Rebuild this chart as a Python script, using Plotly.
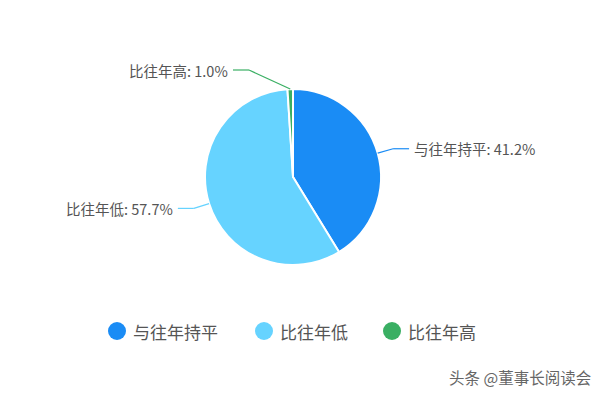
import math
import plotly.graph_objects as go

# Slice data
categories = ["与往年持平", "比往年低", "比往年高"]
values = [41.2, 57.7, 1.0]
colors = ["#1A8CF5", "#66D3FF", "#3AAF63"]

W, H = 604, 395
FONT = "Noto Sans CJK SC, Microsoft YaHei, sans-serif"
TEXT = "#555555"

# Pie placement in pixels
cx, cy, r = 293, 177, 88

def px(x):
    return x / W

def py(y):
    return 1 - y / H

fig = go.Figure()
fig.add_trace(go.Pie(
    labels=categories, values=values,
    marker=dict(colors=colors, line=dict(color="white", width=2)),
    sort=False, direction="clockwise", rotation=0,
    textinfo="none", hoverinfo="label+percent", showlegend=False,
    domain=dict(x=[px(cx - r), px(cx + r)], y=[py(cy + r), py(cy - r)]),
))

shapes = []
annotations = []
total = sum(values)
acc = 0.0
for cat, val, col in zip(categories, values, colors):
    mid = (acc + val / 2) / total * 2 * math.pi
    acc += val
    sx, sy = math.sin(mid), -math.cos(mid)
    x0, y0 = cx + r * sx, cy + r * sy
    # first segment goes radially outward, second one horizontally
    ext = 16
    x1, y1 = cx + (r + ext) * sx, cy + (r + ext) * sy
    if cat == "比往年高":
        x1, y1 = 249, 70
    side = 1 if sx >= 0 else -1
    x2 = x1 + side * 16
    for a, b in [((x0, y0), (x1, y1)), ((x1, y1), (x2, y1))]:
        shapes.append(dict(type="line", xref="paper", yref="paper",
                           x0=px(a[0]), y0=py(a[1]), x1=px(b[0]), y1=py(b[1]),
                           line=dict(color=col, width=1.2)))
    annotations.append(dict(
        x=px(x2 + side * 3), y=py(y1), xref="paper", yref="paper",
        text=f"{cat}: {val:.1f}%", showarrow=False,
        xanchor="left" if side > 0 else "right", yanchor="middle",
        font=dict(family=FONT, size=14.5, color=TEXT)))

# Custom legend with round markers
legend_x = [117, 264, 392]
legend_y = 331
for lx, cat, col in zip(legend_x, categories, colors):
    shapes.append(dict(type="circle", xref="paper", yref="paper",
                       x0=px(lx - 9), x1=px(lx + 9),
                       y0=py(legend_y + 9), y1=py(legend_y - 9),
                       fillcolor=col, line=dict(width=0)))
    annotations.append(dict(
        x=px(lx + 14), y=py(legend_y), xref="paper", yref="paper",
        text=cat, showarrow=False, xanchor="left", yanchor="middle",
        font=dict(family=FONT, size=17, color=TEXT)))

# Watermark
annotations.append(dict(
    x=px(593), y=py(377), xref="paper", yref="paper",
    text="头条 @董事长阅读会", showarrow=False, xanchor="right", yanchor="middle",
    font=dict(family=FONT, size=15.5, color="#666666")))

fig.update_layout(
    width=W, height=H, margin=dict(l=0, r=0, t=0, b=0),
    paper_bgcolor="white", plot_bgcolor="white",
    shapes=shapes, annotations=annotations,
)
fig.write_html("out.html")
